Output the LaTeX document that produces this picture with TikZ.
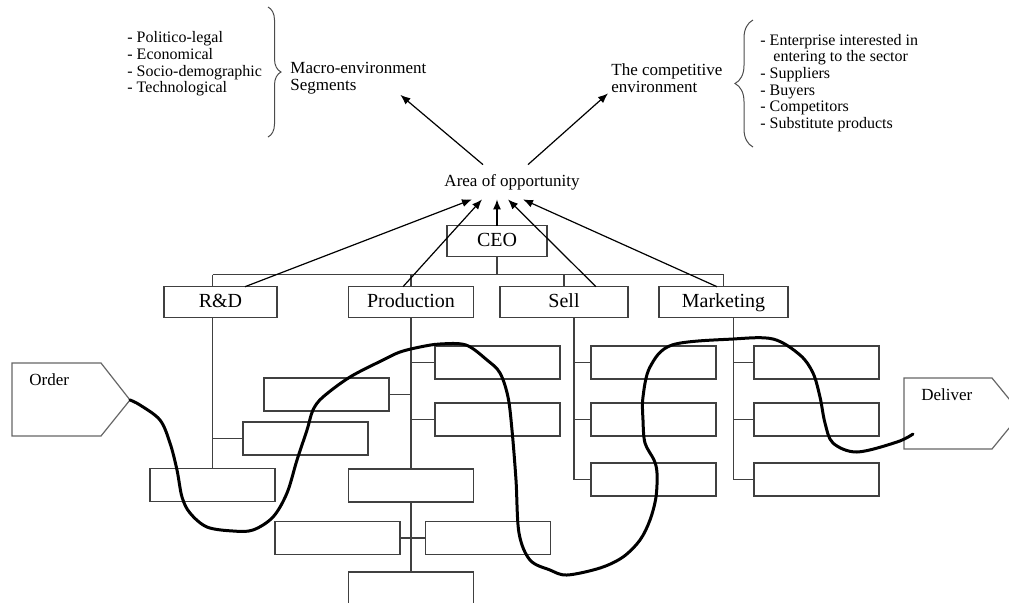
\documentclass[tikz,border=0pt]{standalone}
\usepackage{fontspec}
\setmainfont{Liberation Serif}
\usepackage{tikz}
\usetikzlibrary{positioning, calc, arrows.meta, decorations.pathreplacing}

\begin{document}
\begin{tikzpicture}[x=0.5pt, y=-0.5pt,
    cell/.style={draw=black!75, line width=0.6pt, rectangle, minimum width=62.5pt, minimum height=16.5pt, inner sep=0pt, outer sep=0pt},
    dept/.style={cell, minimum height=15.5pt, text height=7pt, text depth=2pt, font=\fontsize{10}{12}\selectfont},
    link/.style={draw=black!75, line width=0.6pt},
    arrow/.style={line width=0.6pt, -{Latex[length=5pt, width=4pt]}},
    flow/.style={line width=1.5pt, line join=round, line cap=round},
    note/.style={font=\fontsize{8}{8.3}\selectfont, align=left, inner sep=0pt},
    caption/.style={note, font=\fontsize{8.5}{8.5}\selectfont},
    tag/.style={draw=black!60, line width=0.6pt},
    brace/.style={draw=black!70, line width=0.5pt, decorate}
]
\useasboundingbox (0,0) rectangle (1009,602);
\clip (0,0) rectangle (1009,602);

% Environment
\node[note, anchor=west] (pest) at (127,64) {- Politico-legal\\- Economical\\- Socio-demographic\\- Technological};
\draw[brace, decoration={brace, amplitude=6.5pt}] (268,7) -- (268,137);
\node[caption, anchor=west] (macro) at (290,78.5) {Macro-environment\\Segments};

\node[caption, anchor=west] (comp) at (611,78.5) {The competitive\\environment};
\draw[brace, decoration={brace, amplitude=9pt}] (753,147) -- (753,20);
\node[note, anchor=west] (forces) at (760,83) {- Enterprise interested in\\\hspace*{6.5pt}entering to the sector\\- Suppliers\\- Buyers\\- Competitors\\- Substitute products};

\node[caption, minimum height=17pt] (area) at (512,182) {Area of opportunity};

\draw[arrow] ([xshift=-14.5pt]area.north) -- ([xshift=21pt]macro.south);
\draw[arrow] ([xshift=8pt]area.north) -- ([xshift=-1.5pt]comp.south west);

% Organisation chart
\node[dept, minimum width=50pt] (ceo) at (497,241) {CEO};
\node[dept, minimum width=56.5pt] (rd) at (220.5,302.2) {R\&D};
\node[dept] (prod) at (411,302.2) {Production};
\node[dept, minimum width=64pt] (sell) at (564,302.2) {Sell};
\node[dept, minimum width=64.5pt] (mkt) at (723.5,302.2) {Marketing};

\node[cell] (rd1) at (212.5,485) {};
\node[cell] (rd2) at (305.5,438.5) {};

\node[cell] (pl1) at (326.5,394.5) {};
\node[cell] (pr1) at (497.5,362.5) {};
\node[cell, below=12pt of pr1] (pr2) {};
\node[cell] (pc1) at (411,485.5) {};
\node[cell] (pl2) at (337.5,538) {};
\node[cell] (pr3) at (488,538) {};
\node[cell] (pc2) at (411,588.5) {};

\foreach \c/\x in {s/653.5, m/816.5} {
    \node[cell] (\c1) at (\x,362.5) {};
    \node[cell, below=12pt of \c1] (\c2) {};
    \node[cell, below=13.5pt of \c2] (\c3) {};
}

\coordinate (bus) at (0,274.7);
\draw[link] (rd1.north |- bus) -- (mkt.north |- bus);
\draw[link] (ceo.south) -- (ceo.south |- bus);
\draw[link] (rd1.north |- bus) -- (rd1.north |- rd.north);
\foreach \d in {prod, sell, mkt}
    \draw[link] (\d.north) -- (\d.north |- bus);

\draw[link] (rd1.north |- rd.south) -- (rd1.north);
\draw[link] (rd2.west) -- (rd2.west -| rd1.north);

\draw[link] (prod.south) -- (pc1.north);
\draw[link] (pc1.south) -- (pc2.north);
\foreach \b in {pl1, pl2}
    \draw[link] (\b.east) -- (\b.east -| prod.south);
\foreach \b in {pr1, pr2, pr3}
    \draw[link] (\b.west) -- (\b.west -| prod.south);

\coordinate (sellT) at ([xshift=5pt]sell.south);
\coordinate (mktT) at ([xshift=5.1pt]mkt.south);
\draw[link] (sellT) -- (sellT |- s3.west) -- (s3.west);
\draw[link] (mktT) -- (mktT |- m3.west) -- (m3.west);
\foreach \b in {s1, s2}
    \draw[link] (\b.west) -- (\b.west -| sellT);
\foreach \b in {m1, m2}
    \draw[link] (\b.west) -- (\b.west -| mktT);

\draw[arrow] ([xshift=12.25pt]rd.north) -- ([xshift=-20pt]area.south);
\draw[arrow] ([xshift=-4pt]prod.north) -- ([xshift=-15pt]area.south);
\draw[arrow] (ceo.north) -- (ceo.north |- area.south);
\draw[arrow] ([xshift=16pt]sell.north) -- ([xshift=-2pt]area.south);
\draw[arrow] ([xshift=-3.25pt]mkt.north) -- ([xshift=5.5pt]area.south);

% Order and delivery
\draw[tag] (12,363) -- (101,363) -- (130,400) coordinate (order) -- (101,436) -- (12,436) -- cycle;
\node[caption, anchor=west] (orderlbl) at (29,380) {Order};
\draw[tag] (904,378) -- (992,378) -- (1021,413.5) -- (992,449) -- (904,449) -- cycle;
\node[caption, anchor=west] (deliverlbl) at (921,395) {Deliver};
\coordinate (deliver) at (913,434);

\draw[flow] plot[smooth, tension=0.55] coordinates {(order) (140,405) (160,420) (170,443) (177,470)
    (182,497) (190,513) (207,527) (233,531) (253,530) (273,517) (287,493) (297,460) (307,430)
    (313,410) (323,397) (350,377) (383,360) (400,352) (420,347) (440,344) (466,345) (487,360)
    (500,373) (508,397) (512,430) (516,480) (519,533) (530,560) (550,570) (567,575) (600,568)
    (623,557) (640,540) (650,520) (656,497) (657,473) (654,460) (645,443) (643,420) (643,397)
    (650,367) (672,345) (733,339) (773,339) (800,355) (813,373) (820,397) (825,423) (833,443)
    (857,452) (897,442) (deliver)};

\end{tikzpicture}
\end{document}
